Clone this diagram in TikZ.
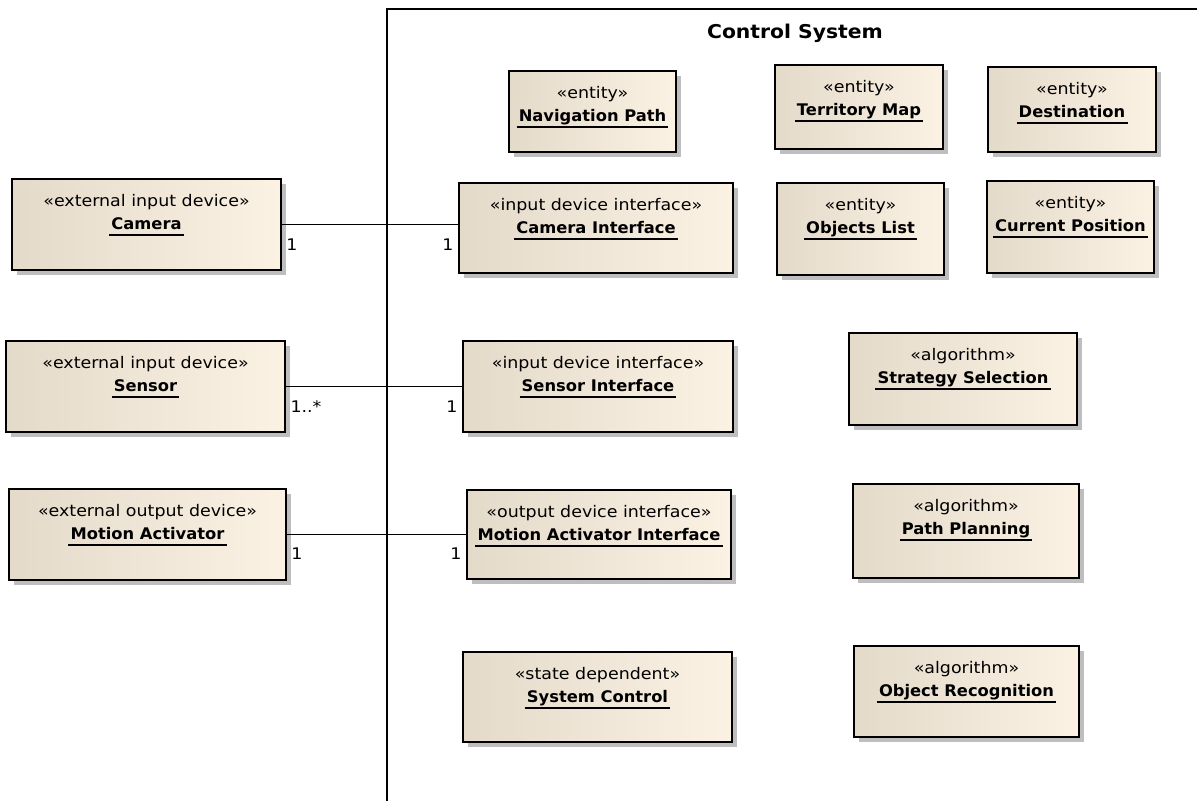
\documentclass[tikz,border=0pt]{standalone}
\usepackage{fontspec}
\setmainfont{DejaVu Sans}
\newfontfamily\stfont[FakeStretch=1.09]{DejaVu Sans}
\newfontfamily\bdfont[FakeStretch=1.02]{DejaVu Sans Bold}
\newfontfamily\ttlfont[FakeStretch=1.07]{DejaVu Sans Bold}
\definecolor{beigeL}{RGB}{228,218,202}
\definecolor{beigeR}{RGB}{252,242,228}
\definecolor{shadowc}{RGB}{190,190,190}
\tikzset{
  ubox/.style={draw=black, line width=1.7pt, left color=beigeL, right color=beigeR, inner sep=0pt},
  stereo/.style={font=\stfont\fontsize{16}{18}\selectfont, inner sep=0pt, anchor=base},
  utitle/.style={font=\bdfont\fontsize{16}{18}\selectfont, inner sep=0pt, anchor=base},
  mult/.style={font=\stfont\fontsize{16}{18}\selectfont, inner sep=0pt},
  conn/.style={draw=black, line width=1.5pt},
  frame/.style={draw=black, line width=1.5pt}
}
\newcommand{\umlbox}[7]{%
  \fill[shadowc] ({#2+5},{#3+5}) rectangle ({#4+5},{#5+5});
  \node[ubox, minimum width={#4pt-#2pt}, minimum height={#5pt-#3pt}] (#1) at ({(#2+#4)/2},{(#3+#5)/2}) {};
  \node[stereo] (#1s) at ([yshift=-28pt]#1.north) {#6};
  \node[utitle] (#1t) at ([yshift=-51pt]#1.north) {#7};
  \draw[line width=1.4pt] ([xshift=-2pt,yshift=-6pt]#1t.base west) -- ([xshift=2pt,yshift=-6pt]#1t.base east);
}
\begin{document}
\begin{tikzpicture}[x=1pt,y=-1pt]
\useasboundingbox (0,0) rectangle (1197,801);
\fill[white] (0,0) rectangle (1197,801);
% frame
\draw[frame] (387,801) -- (387,9) -- (1197,9);
\node[font=\ttlfont\fontsize{19}{21}\selectfont, inner sep=0pt, anchor=base] (frametitle) at (795,38) {Control System};
% boxes
\umlbox{cam}{12}{179}{281}{270}{«external input device»}{Camera}
\umlbox{sen}{6}{341}{285}{432}{«external input device»}{Sensor}
\umlbox{mot}{9}{489}{286}{580}{«external output device»}{Motion Activator}
\umlbox{nav}{509}{71}{676}{152}{«entity»}{Navigation Path}
\umlbox{ter}{775}{65}{943}{149}{«entity»}{Territory Map}
\umlbox{dst}{988}{67}{1156}{152}{«entity»}{Destination}
\umlbox{camif}{459}{183}{733}{273}{«input device interface»}{Camera Interface}
\umlbox{obj}{777}{183}{944}{275}{«entity»}{Objects List}
\umlbox{cur}{987}{181}{1154}{273}{«entity»}{Current Position}
\umlbox{senif}{463}{341}{733}{432}{«input device interface»}{Sensor Interface}
\umlbox{strat}{849}{333}{1077}{425}{«algorithm»}{Strategy Selection}
\umlbox{motif}{467}{490}{731}{579}{«output device interface»}{Motion Activator Interface}
\umlbox{pp}{853}{484}{1079}{578}{«algorithm»}{Path Planning}
\umlbox{sys}{463}{652}{732}{742}{«state dependent»}{System Control}
\umlbox{objr}{854}{646}{1079}{737}{«algorithm»}{Object Recognition}
% connectors
\draw[conn] (cam.east) -- (cam.east -| camif.west);
\draw[conn] (sen.east) -- (sen.east -| senif.west);
\draw[conn] (mot.east) -- (mot.east -| motif.west);
% multiplicities
\node[mult] (m1) at (292,245) {1};
\node[mult] (m2) at (448,245) {1};
\node[mult] (m3) at (306,407) {1..*};
\node[mult] (m4) at (452,407) {1};
\node[mult] (m5) at (297,554) {1};
\node[mult] (m6) at (456,554) {1};
\end{tikzpicture}
\end{document}
